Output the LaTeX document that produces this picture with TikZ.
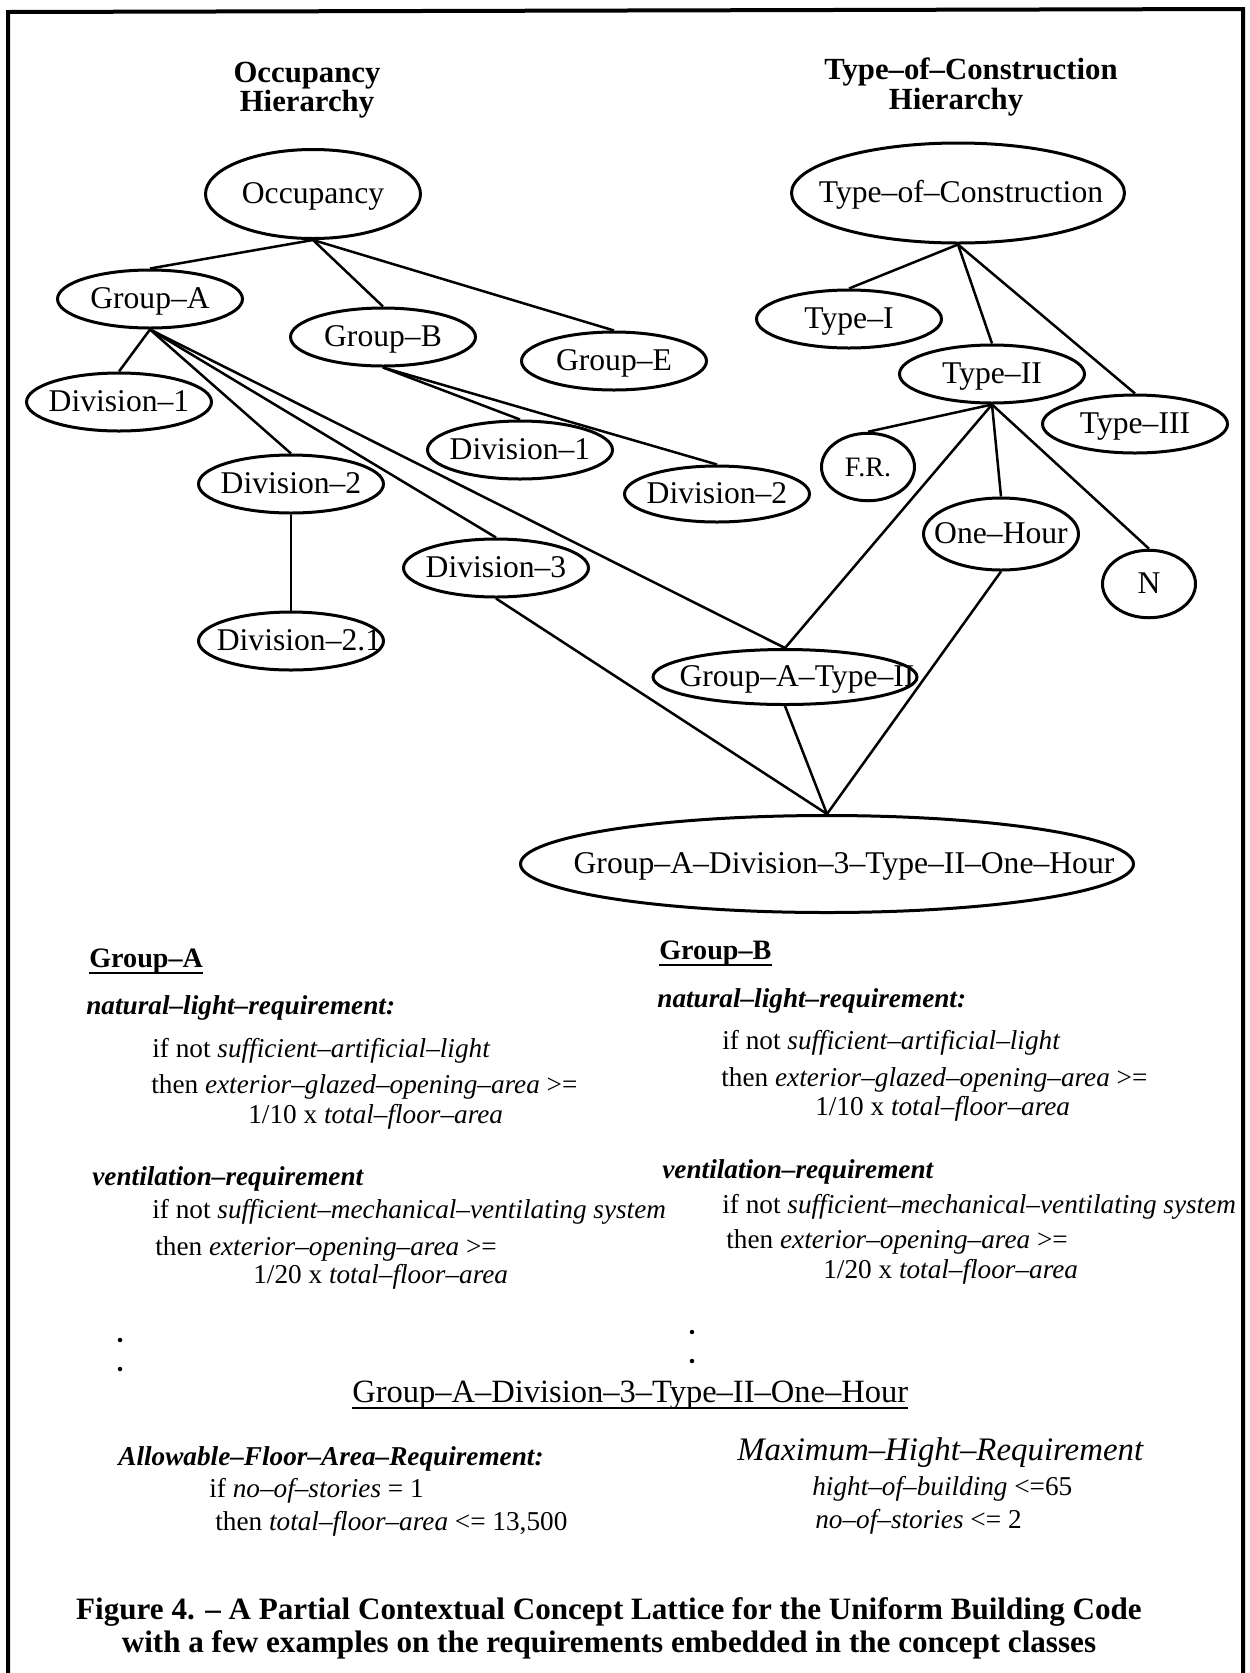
\documentclass[tikz,border=0pt]{standalone}
\usepackage{fontspec}
\setmainfont{Liberation Serif}
\usetikzlibrary{shapes.geometric, positioning, calc}

\newcommand{\nodefont}{\fontsize{18}{20}\selectfont}
\newcommand{\hierfont}{\fontsize{17.5}{20}\selectfont\bfseries}
\newcommand{\reqfont}{\fontsize{15.5}{18}\selectfont}
\newcommand{\capfont}{\fontsize{17.7}{20}\selectfont\bfseries}
\newcommand{\inbox}[2][0pt]{\makebox[0pt]{\kern#1\relax\smash{\raisebox{-1.9mm}{#2}}\kern-#1\relax}}

\begin{document}
\begin{tikzpicture}[x=0.2mm, y=-0.2mm,
    concept/.style={ellipse, draw, line width=0.6mm, inner sep=0pt, minimum width=37mm, minimum height=11.6mm, font=\nodefont},
    small/.style={concept, minimum width=18.6mm, minimum height=13.5mm},
    link/.style={line width=0.5mm},
    hiertitle/.style={font=\hierfont, anchor=base, inner sep=0pt},
    reqline/.style={font=\reqfont, anchor=base west, inner sep=0pt},
    ulhead/.style={reqline, font=\fontsize{16}{18}\selectfont\bfseries},
    caption/.style={font=\capfont, anchor=base, inner sep=0pt}
  ]
    \useasboundingbox (0,0) rectangle (1250,1673);
    % frame
    \draw[line width=0.8mm] (8,1673) -- (8,12) -- (1243,9) -- (1243,1673);

    % hierarchy titles
    \node[hiertitle] (occT1) at (307,82) {Occupancy};
    \node[hiertitle] (occT2) at (307,111) {Hierarchy};
    \node[hiertitle] (tocT1) at (971,79) {Type--of--Construction};
    \node[hiertitle] (tocT2) at (956,109) {Hierarchy};

    % occupancy hierarchy
    \node[concept, minimum width=43mm, minimum height=17.8mm] (occ) at (313,194) {\inbox{Occupancy}};
    \node[concept] (ga) at (150,299) {\inbox{Group--A}};
    \node[concept] (gb) at (383,337) {\inbox{Group--B}};
    \node[concept] (ge) at (614,361) {\inbox{Group--E}};
    \node[concept] (ga1) at (119,402) {\inbox{Division--1}};
    \node[concept] (ga2) at (291,484) {\inbox{Division--2}};
    \node[concept] (ga3) at (496,568) {\inbox{Division--3}};
    \node[concept] (ga21) at (291,641) {\inbox[1.6mm]{Division--2.1}};
    \node[concept] (gb1) at (520,450) {\inbox{Division--1}};
    \node[concept, minimum height=11.2mm] (gb2) at (717,494) {\inbox{Division--2}};

    % type-of-construction hierarchy
    \node[concept, minimum width=66.6mm, minimum height=20mm] (toc) at (958,193) {\inbox[0.6mm]{Type--of--Construction}};
    \node[concept] (t1) at (849,319) {\inbox{Type--I}};
    \node[concept] (t2) at (992,374) {\inbox{Type--II}};
    \node[concept] (t3) at (1135,424) {\inbox{Type--III}};
    \node[small] (fr) at (868,467) {\inbox{\fontsize{16}{18}\selectfont F.R.}};
    \node[concept, minimum width=31mm, minimum height=14.4mm] (oneh) at (1001,534) {\inbox{One--Hour}};
    \node[small] (nn) at (1149,584) {\inbox{N}};

    % combined concepts
    \node[concept, minimum width=52.8mm, minimum height=11mm] (gat2) at (785,677) {\inbox[2.4mm]{Group--A--Type--II}};
    \node[concept, minimum width=122.6mm, minimum height=19.4mm] (big) at (827,864) {\inbox[3.4mm]{Group--A--Division--3--Type--II--One--Hour}};

    % lattice links
    \foreach \a/\b in {occ/ga, occ/gb, occ/ge, ga/ga1, ga/ga2, ga/ga3, ga/gat2, ga2/ga21, gb/gb1, gb/gb2,
                       toc/t1, toc/t2, toc/t3, t2/fr, t2/oneh, t2/nn, t2/gat2, ga3/big, gat2/big, oneh/big}
      \draw[link] (\a.south) -- (\b.north);

    % Group-A requirements
    \node[ulhead] (gaHead) at (89,967) {Group--A};
    \node[reqline] (gaLight) at (86,1014) {\textbf{\textit{natural--light--requirement:}}};
    \node[reqline] (gaL1) at (152,1057) {if not \textit{sufficient--artificial--light}};
    \node[reqline] (gaL2) at (151,1093) {then \textit{exterior--glazed--opening--area} >=};
    \node[reqline] (gaL3) at (248,1123) {1/10 x \textit{total--floor--area}};
    \node[reqline] (gaVent) at (92,1185) {\textbf{\textit{ventilation--requirement}}};
    \node[reqline] (gaV1) at (152,1218) {if not \textit{sufficient--mechanical--ventilating system}};
    \node[reqline] (gaV2) at (155,1255) {then \textit{exterior--opening--area} >=};
    \node[reqline] (gaV3) at (253,1283) {1/20 x \textit{total--floor--area}};

    % Group-B requirements
    \node[ulhead] (gbHead) at (659,959) {Group--B};
    \node[reqline] (gbLight) at (657,1007) {\textbf{\textit{natural--light--requirement:}}};
    \node[reqline] (gbL1) at (722,1049) {if not \textit{sufficient--artificial--light}};
    \node[reqline] (gbL2) at (721,1086) {then \textit{exterior--glazed--opening--area} >=};
    \node[reqline] (gbL3) at (815,1115) {1/10 x \textit{total--floor--area}};
    \node[reqline] (gbVent) at (662,1178) {\textbf{\textit{ventilation--requirement}}};
    \node[reqline] (gbV1) at (722,1213) {if not \textit{sufficient--mechanical--ventilating system}};
    \node[reqline] (gbV2) at (726,1248) {then \textit{exterior--opening--area} >=};
    \node[reqline] (gbV3) at (823,1278) {1/20 x \textit{total--floor--area}};

    % continuation dots
    \foreach \x/\y in {120/1340, 120/1369, 692/1332, 692/1361}
      \fill (\x,\y) circle[radius=0.45mm];

    % combined concept requirements
    \node[reqline, font=\fontsize{18.5}{20}\selectfont] (bigHead) at (352,1402) {Group--A--Division--3--Type--II--One--Hour};
    \node[reqline] (afaHead) at (118,1465) {\textbf{\textit{Allowable--Floor--Area--Requirement:}}};
    \node[reqline] (afa1) at (209,1497) {if \textit{no--of--stories} = 1};
    \node[reqline] (afa2) at (215,1530) {then \textit{total--floor--area} <= 13,500};
    \node[reqline, font=\fontsize{18.7}{20}\selectfont] (mhHead) at (737,1460) {\textit{Maximum--Hight--Requirement}};
    \node[reqline] (mh1) at (812,1495) {\textit{hight--of--building} <=65};
    \node[reqline] (mh2) at (815,1528) {\textit{no--of--stories} <= 2};

    % underlines
    \foreach \n in {gaHead, gbHead, bigHead}
      \draw[line width=0.4mm] ($(\n.base west)+(0,6)$) -- ($(\n.base east)+(0,6)$);

    % caption
    \node[caption] (cap1) at (609,1619) {Figure 4. -- A Partial Contextual Concept Lattice for the Uniform Building Code};
    \node[caption] (cap2) at (609,1652) {with a few examples on the requirements embedded in the concept classes};
\end{tikzpicture}
\end{document}
